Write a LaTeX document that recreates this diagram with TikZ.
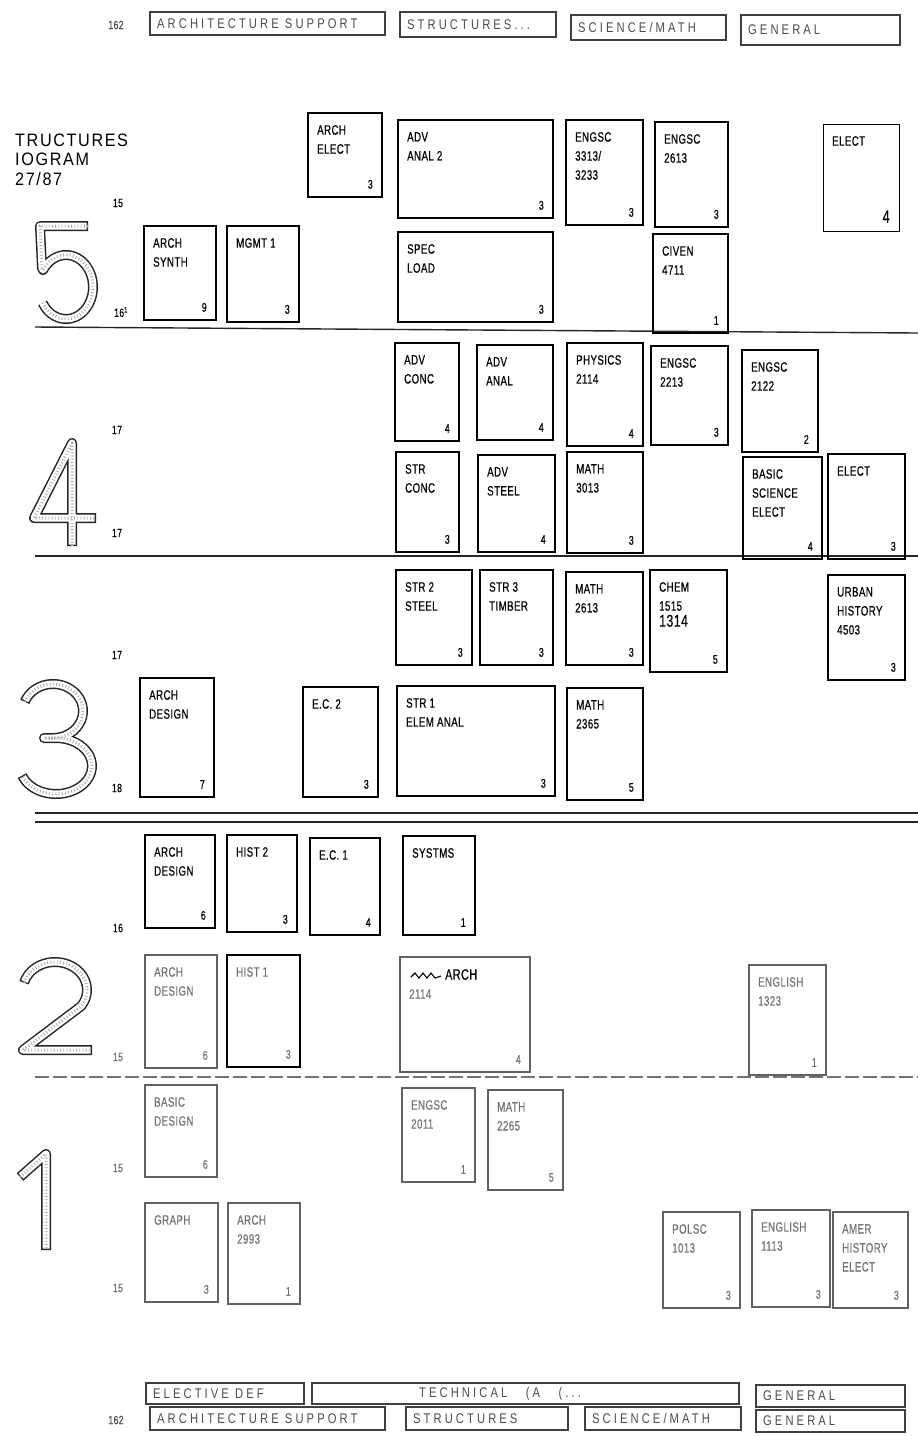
\documentclass[tikz,border=0pt]{standalone}
\usepackage{fontspec}
\setmainfont{Liberation Sans}
\newfontfamily\boxfont[FakeStretch=0.72,LetterSpace=3,FakeBold=0.4]{Liberation Sans}
\newfontfamily\legfont[FakeStretch=0.8,LetterSpace=22]{Liberation Sans}
\newfontfamily\titlefont[FakeStretch=0.9,LetterSpace=9]{Liberation Sans}
\tikzset{
  course/.style={draw=black, line width=1.3pt, inner sep=0pt, outer sep=0pt},
  thickc/.style={course, line width=2.5pt},
  medc/.style={course, line width=1.8pt},
  thinc/.style={course, line width=1pt},
  faintc/.style={course, draw=black!62, line width=1.1pt},
  ink/.style={text=black!55},
  lbl/.style={font=\boxfont\fontsize{13.5}{19}\selectfont, align=left, inner sep=0pt},
  cr/.style={font=\boxfont\fontsize{12.5}{13}\selectfont, inner sep=0pt},
  yl/.style={font=\boxfont\fontsize{12}{12}\selectfont, inner sep=0pt},
  titlef/.style={font=\titlefont\fontsize{18}{20}\selectfont, inner sep=0pt, anchor=base west},
  legbox/.style={draw=black!75, line width=1.1pt, inner sep=0pt, outer sep=0pt},
  legtext/.style={font=\legfont\fontsize{14}{14}\selectfont, text=black!70, inner sep=0pt},
  divl/.style={line width=1.4pt, draw=black!85},
  numo/.style={line width=10pt, draw=black!85, line join=round},
  numi/.style={line width=7pt, draw=white, line join=round, shorten <=1.4pt, shorten >=1.4pt},
  numd/.style={line width=3pt, draw=black!35, dash pattern=on 0.8pt off 2.4pt, line join=round},
}
\newcommand{\crs}[9]{%
  \pgfmathsetmacro\crsW{#6-#4}%
  \pgfmathsetmacro\crsH{#7-#5}%
  \node[#2, minimum width=\crsW pt, minimum height=\crsH pt, anchor=north west] (#1) at (#4,#5) {};
  \node[lbl, #3, anchor=north west] (#1-t) at ([xshift=9pt,yshift=-12pt]#1.north west) {#8};
  \node[cr, #3, anchor=south east] (#1-c) at ([xshift=-9pt,yshift=8pt]#1.south east) {#9};
}
\newcommand{\lgd}[6]{%
  \pgfmathsetmacro\crsW{#4-#2}%
  \pgfmathsetmacro\crsH{#5-#3}%
  \node[legbox, minimum width=\crsW pt, minimum height=\crsH pt, anchor=north west] (#1) at (#2,#3) {};
  \node[legtext, anchor=west] (#1-t) at ([xshift=7pt]#1.west) {#6};
}
\newcommand{\numeral}[1]{\draw[numo] #1; \draw[numi] #1; \draw[numd] #1;}
\begin{document}
\begin{tikzpicture}[x=1pt,y=-1pt]
\useasboundingbox (0,0) rectangle (918,1436);
\fill[white] (0,0) rectangle (918,1436);

% ---------- header legend
\node[yl, text=black!70] (pg1) at (116,25) {162};
\lgd{h1}{150}{12}{385}{35}{ARCHITECTURE SUPPORT}
\lgd{h2}{400}{12}{556}{37}{STRUCTURES...}
\lgd{h3}{571}{15}{726}{40}{SCIENCE/MATH}
\lgd{h4}{741}{15}{900}{45}{GENERAL}

% ---------- title
\node[titlef] (t1) at (15,146) {TRUCTURES};
\node[titlef] (t2) at (15,165) {IOGRAM};
\node[titlef] (t3) at (15,185) {27/87};

% ---------- big year numerals
\numeral{(88,226) -- (40,226) -- (42,268) -- plot[smooth, domain=148:-150, samples=30] ({66+27*cos(\x)},{287-32*sin(\x)})}
\numeral{(72,546) -- (72,443) -- (34,518) -- (96,518)}
\numeral{plot[smooth, domain=160:-90, samples=30] ({53+30*cos(\x)},{711-27*sin(\x)}) -- (44,738) -- plot[smooth, domain=90:-160, samples=30] ({56+36*cos(\x)},{766-28*sin(\x)})}
\numeral{plot[smooth, domain=165:-35, samples=30] ({55+32*cos(\x)},{990-28*sin(\x)}) -- (23,1050) -- (92,1050)}
\numeral{(20,1177) -- (46,1154) -- (46,1250)}

% ---------- semester credit labels
\node[yl] (l1) at (118,203) {15};
\node[yl] (l2) at (121,312) {16\textsuperscript{1}};
\node[yl] (l3) at (117,430) {17};
\node[yl] (l4) at (117,533) {17};
\node[yl] (l5) at (117,655) {17};
\node[yl] (l6) at (117,788) {18};
\node[yl] (l7) at (118,928) {16};
\node[yl, ink] (l8) at (118,1057) {15};
\node[yl, ink] (l9) at (118,1168) {15};
\node[yl, ink] (l10) at (118,1288) {15};

% ---------- dividers
\draw[divl] (35,327) -- (918,333);
\draw[divl] (35,556) -- (918,556);
\draw[divl] (35,813) -- (918,813);
\draw[divl] (35,822) -- (918,822);
\draw[divl, draw=black!55, dash pattern=on 14pt off 4pt] (35,1077) -- (918,1077);

% ---------- year 5
\crs{ae5}{course}{}{308}{113}{382}{197}{ARCH\\ELECT}{3}
\crs{aa2}{thickc}{}{398}{120}{553}{218}{ADV\\ANAL 2}{3}
\crs{es1}{course}{}{566}{120}{643}{225}{ENGSC\\3313/\\3233}{3}
\crs{es2}{course}{}{655}{122}{728}{227}{ENGSC\\2613}{3}
\crs{el5}{thinc}{}{823}{124}{899}{231}{ELECT}{{\fontsize{18}{18}\selectfont 4}}
\crs{as5}{course}{}{144}{226}{216}{320}{ARCH\\SYNTH}{9}
\crs{mg1}{course}{}{227}{226}{299}{322}{MGMT 1}{3}
\crs{sl}{thickc}{}{398}{232}{553}{322}{SPEC\\LOAD}{3}
\crs{cv}{course}{}{653}{234}{728}{333}{CIVEN\\4711}{1}

% ---------- year 4
\crs{ac}{medc}{}{395}{343}{459}{441}{ADV\\CONC}{4}
\crs{an}{thickc}{}{477}{345}{553}{440}{ADV\\ANAL}{4}
\crs{ph}{course}{}{567}{343}{643}{446}{PHYSICS\\2114}{4}
\crs{e3}{course}{}{651}{346}{728}{445}{ENGSC\\2213}{3}
\crs{e4}{course}{}{742}{350}{818}{452}{ENGSC\\2122}{2}
\crs{sc}{medc}{}{396}{452}{459}{552}{STR\\CONC}{3}
\crs{st}{thickc}{}{478}{455}{555}{552}{ADV\\STEEL}{4}
\crs{m3}{course}{}{567}{452}{643}{553}{MATH\\3013}{3}
\crs{bs}{course}{}{743}{457}{822}{559}{BASIC\\SCIENCE\\ELECT}{4}
\crs{el4}{course}{}{828}{454}{905}{559}{ELECT}{3}

% ---------- year 3
\crs{s2}{thickc}{}{396}{570}{472}{665}{STR 2\\STEEL}{3}
\crs{s3}{thickc}{}{480}{570}{553}{665}{STR 3\\TIMBER}{3}
\crs{m26}{course}{}{566}{572}{643}{665}{MATH\\2613}{3}
\crs{ch}{course}{}{650}{570}{727}{672}{CHEM\\1515\\[-3pt]{\fontsize{17}{18}\selectfont 1314}}{5}
\crs{ur}{course}{}{828}{575}{905}{680}{URBAN\\HISTORY\\4503}{3}
\crs{ad3}{course}{}{140}{678}{214}{797}{ARCH\\DESIGN}{7}
\crs{ec2}{course}{}{303}{687}{378}{797}{E.C. 2}{3}
\crs{s1}{thickc}{}{397}{686}{555}{796}{STR 1\\ELEM ANAL}{3}
\crs{m23}{course}{}{567}{688}{643}{800}{MATH\\2365}{5}

% ---------- year 2
\crs{ad2a}{course}{}{145}{835}{215}{928}{ARCH\\DESIGN}{6}
\crs{h2}{course}{}{227}{835}{297}{932}{HIST 2}{3}
\crs{ec1}{course}{}{310}{838}{380}{935}{E.C. 1}{4}
\crs{sy}{course}{}{403}{836}{475}{935}{SYSTMS}{1}
\crs{ad2b}{faintc}{ink}{145}{955}{217}{1068}{ARCH\\DESIGN}{6}
\crs{h1}{course}{ink}{227}{955}{300}{1067}{HIST 1}{3}
\crs{ar}{faintc}{ink}{400}{957}{530}{1072}{\hspace*{36pt}{\color{black}\fontsize{15}{15}\selectfont ARCH}\\2114}{4}
\draw[line width=1.1pt] (411,977) -- (415,973) -- (419,978) -- (423,973) -- (427,978) -- (431,973) -- (435,978) -- (441,976);
\crs{en2}{faintc}{ink}{749}{965}{826}{1075}{ENGLISH\\1323}{1}

% ---------- year 1
\crs{bd}{faintc}{ink}{145}{1085}{217}{1177}{BASIC\\DESIGN}{6}
\crs{eg}{faintc}{ink}{402}{1088}{475}{1182}{ENGSC\\2011}{1}
\crs{m22}{faintc}{ink}{488}{1090}{563}{1190}{MATH\\2265}{5}
\crs{gr}{faintc}{ink}{145}{1203}{218}{1302}{GRAPH}{3}
\crs{a2}{faintc}{ink}{228}{1203}{300}{1304}{ARCH\\2993}{1}
\crs{po}{faintc}{ink}{663}{1212}{740}{1308}{POLSC\\1013}{3}
\crs{en1}{faintc}{ink}{752}{1210}{830}{1307}{ENGLISH\\1113}{3}
\crs{am}{faintc}{ink}{833}{1212}{908}{1308}{AMER\\HISTORY\\ELECT}{3}

% ---------- bottom legend
\lgd{b1}{146}{1383}{304}{1404}{ELECTIVE DEF}
\lgd{b2}{312}{1383}{739}{1404}{\hspace*{100pt}TECHNICAL\ \ \ (A\ \ \ (...}
\lgd{b3}{756}{1385}{905}{1407}{GENERAL}
\node[yl, text=black!70] (pg2) at (116,1420) {162};
\lgd{b4}{150}{1407}{385}{1430}{ARCHITECTURE SUPPORT}
\lgd{b5}{406}{1407}{568}{1430}{STRUCTURES}
\lgd{b6}{585}{1407}{741}{1430}{SCIENCE/MATH}
\lgd{b7}{756}{1410}{905}{1432}{GENERAL}
\end{tikzpicture}
\end{document}
